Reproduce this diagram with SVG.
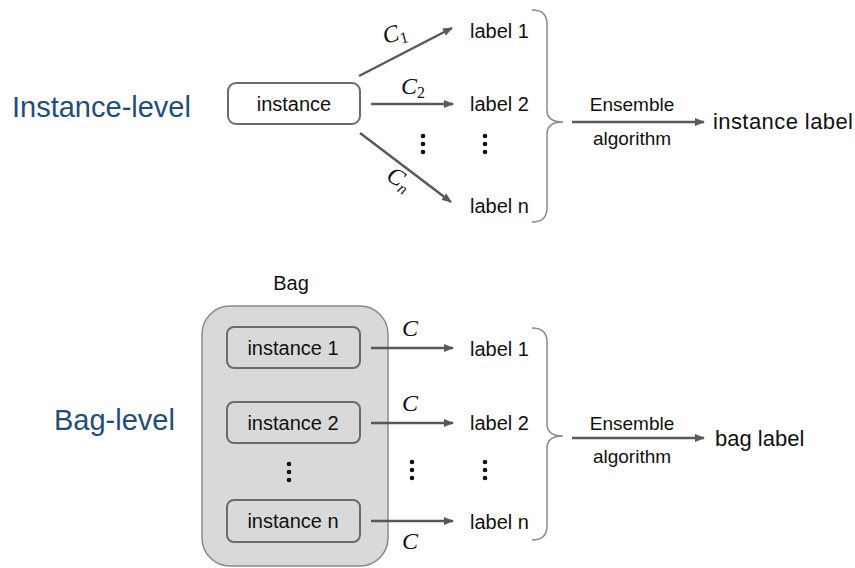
<svg xmlns="http://www.w3.org/2000/svg" width="855" height="568" viewBox="0 0 855 568">
<style>
  .t { font-family: "Liberation Sans", Arial, sans-serif; fill: #111; }
  .lvl { font-family: "Liberation Sans", Arial, sans-serif; font-size: 29px; fill: #1f4e79; }
  .node { font-size: 20px; text-anchor: middle; }
  .lab { font-size: 20px; }
  .ens { font-size: 19px; text-anchor: middle; }
  .out { font-size: 22px; }
  .box { fill: #ffffff; stroke: #6b6b6b; stroke-width: 2; }
  .gbox { fill: #d9d9d9; stroke: #6b6b6b; stroke-width: 2; }
  .bag { fill: #d9d9d9; stroke: #8a8a8a; stroke-width: 1.5; }
  .arr { stroke: #595959; stroke-width: 2.5; fill: none; marker-end: url(#ah); }
  .brace { stroke: #8a8a8a; stroke-width: 1.5; fill: none; }
  .c { font-family: "Liberation Serif", "Times New Roman", serif; font-style: italic; font-size: 24px; fill: #111; }
  .sub { font-size: 16px; }
  .dot { fill: #111; }
</style>
<defs>
  <marker id="ah" markerWidth="10" markerHeight="8" refX="9" refY="4" orient="auto" markerUnits="userSpaceOnUse">
    <path d="M0,0 L10,4 L0,8 Z" fill="#595959"/>
  </marker>
</defs>

<!-- Instance-level -->
<text id="instance-level" class="lvl" x="12" y="117">Instance-level</text>

<g id="instance">
  <rect class="box" x="228" y="83" width="132" height="41" rx="8"/>
  <text class="t node" x="294" y="111">instance</text>
</g>

<g id="top-labels">
  <text class="t lab" x="470" y="38">label 1</text>
  <text class="t lab" x="470" y="111">label 2</text>
  <text class="t lab" x="470" y="213">label n</text>
  <circle class="dot" cx="423" cy="136" r="2.3"/><circle class="dot" cx="423" cy="144" r="2.3"/><circle class="dot" cx="423" cy="152" r="2.3"/>
  <circle class="dot" cx="485" cy="136" r="2.3"/><circle class="dot" cx="485" cy="144" r="2.3"/><circle class="dot" cx="485" cy="152" r="2.3"/>
</g>

<g id="top-classifiers">
  <text class="c" transform="translate(385,44) rotate(-15)">C<tspan class="sub" font-style="normal" dy="4">1</tspan></text>
  <text class="c" x="401" y="94">C<tspan class="sub" font-style="normal" dy="4">2</tspan></text>
  <text class="c" transform="translate(385,179) rotate(32)">C<tspan class="sub" dy="4">n</tspan></text>
</g>

<g id="top-ensemble">
  <text class="t ens" x="632" y="111">Ensemble</text>
  <text class="t ens" x="632" y="145">algorithm</text>
  <text id="instance-label" class="t out" x="713" y="129" textLength="140">instance label</text>
</g>

<!-- Bag-level -->
<text id="bag-level" class="lvl" x="54" y="430">Bag-level</text>

<g id="bag">
  <text class="t node" x="291" y="290">Bag</text>
  <rect class="bag" x="202" y="306" width="186" height="260" rx="28"/>
  <circle class="dot" cx="289" cy="464" r="2.3"/><circle class="dot" cx="289" cy="472" r="2.3"/><circle class="dot" cx="289" cy="480" r="2.3"/>
</g>
<g id="instance1">
  <rect class="gbox" x="227" y="327" width="133" height="41" rx="7"/>
  <text class="t node" x="293" y="355">instance 1</text>
</g>
<g id="instance2">
  <rect class="gbox" x="227" y="402" width="133" height="41" rx="7"/>
  <text class="t node" x="293" y="430">instance 2</text>
</g>
<g id="instancen">
  <rect class="gbox" x="227" y="500" width="133" height="42" rx="7"/>
  <text class="t node" x="293" y="528">instance n</text>
</g>

<g id="bottom-labels">
  <text class="t lab" x="470" y="356">label 1</text>
  <text class="t lab" x="470" y="430">label 2</text>
  <text class="t lab" x="470" y="529">label n</text>
  <circle class="dot" cx="412" cy="462" r="2.3"/><circle class="dot" cx="412" cy="470" r="2.3"/><circle class="dot" cx="412" cy="478" r="2.3"/>
  <circle class="dot" cx="485" cy="462" r="2.3"/><circle class="dot" cx="485" cy="470" r="2.3"/><circle class="dot" cx="485" cy="478" r="2.3"/>
  <text class="c" x="402" y="336">C</text>
  <text class="c" x="402" y="411">C</text>
  <text class="c" x="402" y="549">C</text>
</g>

<g id="bottom-ensemble">
  <text class="t ens" x="632" y="430">Ensemble</text>
  <text class="t ens" x="632" y="463">algorithm</text>
  <text id="bag-label" class="t out" x="715" y="446">bag label</text>
</g>

<g id="connectors">
  <line class="arr" x1="359" y1="76" x2="452" y2="28"/>
  <line class="arr" x1="371" y1="104" x2="453" y2="104"/>
  <line class="arr" x1="360" y1="133" x2="451" y2="202"/>
  <path class="brace" d="M532 10 Q547 10 547 24 L547 110 Q547 122 563 122 Q547 122 547 134 L547 208 Q547 222 532 222"/>
  <line class="arr" x1="572" y1="122" x2="704" y2="122"/>

  <line class="arr" x1="371" y1="348" x2="453" y2="348"/>
  <line class="arr" x1="371" y1="423" x2="453" y2="423"/>
  <line class="arr" x1="371" y1="521" x2="453" y2="521"/>
  <path class="brace" d="M532 328 Q547 328 547 342 L547 424 Q547 436 563 436 Q547 436 547 448 L547 526 Q547 540 532 540"/>
  <line class="arr" x1="572" y1="438" x2="704" y2="438"/>
</g>
</svg>
